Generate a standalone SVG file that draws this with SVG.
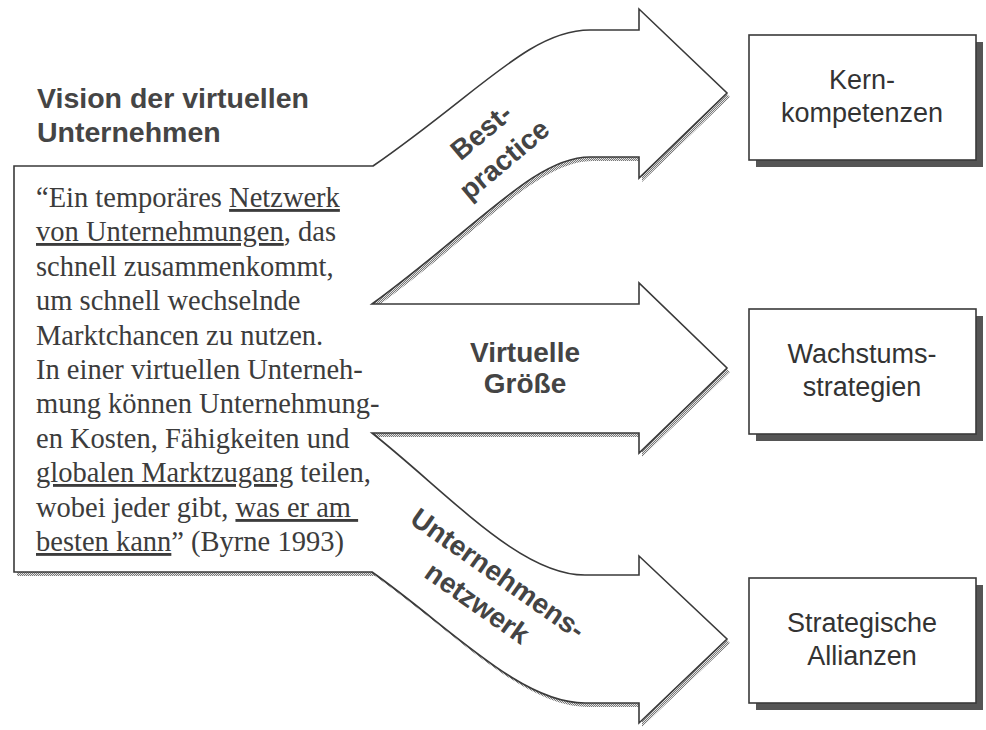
<svg xmlns="http://www.w3.org/2000/svg" width="986" height="730" viewBox="0 0 986 730">
  <defs>
    <pattern id="stip" width="2" height="2" patternUnits="userSpaceOnUse">
      <rect width="2" height="2" fill="#e4e4e4"/>
      <rect width="1" height="1" fill="#777777"/>
      <rect x="1" y="1" width="1" height="1" fill="#777777"/>
    </pattern>
    <path id="outline" d="M14,166 L373,166 C480,92 530,30 590,30 L639,30 L639,9 L727,93 L639,178 L639,157 L590,157 C535,157 480,225 372,304 L639,304 L639,283 L727,368 L639,453 L639,433 L372,433 C450,495 520,575 585,575 L639,575 L639,556 L727,639 L639,723 L639,703 L585,703 C520,703 450,627 372,572 L14,572 Z"/>
  </defs>
  <style>
    .outline { fill: #ffffff; stroke: #3a3a3a; stroke-width: 1.6; stroke-linejoin: miter; }
    .box { fill: #ffffff; stroke: #3a3a3a; stroke-width: 1.6; }
    .shadow { fill: #555555; }
    .title { font-family: "Liberation Sans", Arial, sans-serif; font-weight: bold; font-size: 28.5px; fill: #454545; }
    .quote { font-family: "Liberation Serif", "Times New Roman", serif; font-size: 28.5px; fill: #3c3c3c; }
    .lbl { font-family: "Liberation Sans", Arial, sans-serif; font-weight: bold; font-size: 28px; fill: #444444; text-anchor: middle; }
    .btxt { font-family: "Liberation Sans", Arial, sans-serif; font-size: 27px; fill: #333333; text-anchor: middle; }
    .u { text-decoration: underline; }
  </style>
  <rect width="986" height="730" fill="#ffffff"/>

  <g id="connectors">
    <use href="#outline" transform="translate(3,4)" fill="url(#stip)"/>
    <use href="#outline" class="outline"/>
    <g id="label-best-practice" transform="translate(493,146) rotate(-40)">
      <text class="lbl" x="0" y="-9">Best-</text>
      <text class="lbl" x="0" y="27">practice</text>
    </g>
    <g id="label-virtuelle-groesse">
      <text class="lbl" x="525" y="362">Virtuelle</text>
      <text class="lbl" x="525" y="393">Größe</text>
    </g>
    <g id="label-netzwerk" transform="translate(488,588) rotate(35)">
      <text class="lbl" x="0" y="-8">Unternehmens-</text>
      <text class="lbl" x="0" y="28">netzwerk</text>
    </g>
  </g>

  <g id="vision">
    <text class="title" x="37" y="108">Vision der virtuellen</text>
    <text class="title" x="37" y="142">Unternehmen</text>
    <text class="quote" x="36" y="207">“Ein temporäres <tspan class="u">Netzwerk</tspan></text>
    <text class="quote" x="36" y="241"><tspan class="u">von Unternehmungen</tspan>, das</text>
    <text class="quote" x="36" y="276">schnell zusammenkommt,</text>
    <text class="quote" x="36" y="310">um schnell wechselnde</text>
    <text class="quote" x="36" y="345">Marktchancen zu nutzen.</text>
    <text class="quote" x="36" y="379">In einer virtuellen Unterneh-</text>
    <text class="quote" x="36" y="413">mung können Unternehmung-</text>
    <text class="quote" x="36" y="448">en Kosten, Fähigkeiten und</text>
    <text class="quote" x="36" y="482"><tspan class="u">globalen Marktzugang</tspan> teilen,</text>
    <text class="quote" x="36" y="517">wobei jeder gibt, <tspan class="u">was er am&#160;</tspan></text>
    <text class="quote" x="36" y="551"><tspan class="u">besten kann</tspan>” (Byrne 1993)</text>
  </g>

  <g id="kernkompetenzen">
    <rect class="shadow" x="756" y="42" width="227" height="125"/>
    <rect class="box" x="749" y="35" width="227" height="125"/>
    <text class="btxt" x="862" y="89">Kern-</text>
    <text class="btxt" x="862" y="122">kompetenzen</text>
  </g>

  <g id="wachstumsstrategien">
    <rect class="shadow" x="756" y="316" width="227" height="125"/>
    <rect class="box" x="749" y="309" width="227" height="125"/>
    <text class="btxt" x="862" y="363">Wachstums-</text>
    <text class="btxt" x="862" y="396">strategien</text>
  </g>

  <g id="strategische-allianzen">
    <rect class="shadow" x="756" y="585" width="227" height="125"/>
    <rect class="box" x="749" y="578" width="227" height="125"/>
    <text class="btxt" x="862" y="632">Strategische</text>
    <text class="btxt" x="862" y="665">Allianzen</text>
  </g>
</svg>
